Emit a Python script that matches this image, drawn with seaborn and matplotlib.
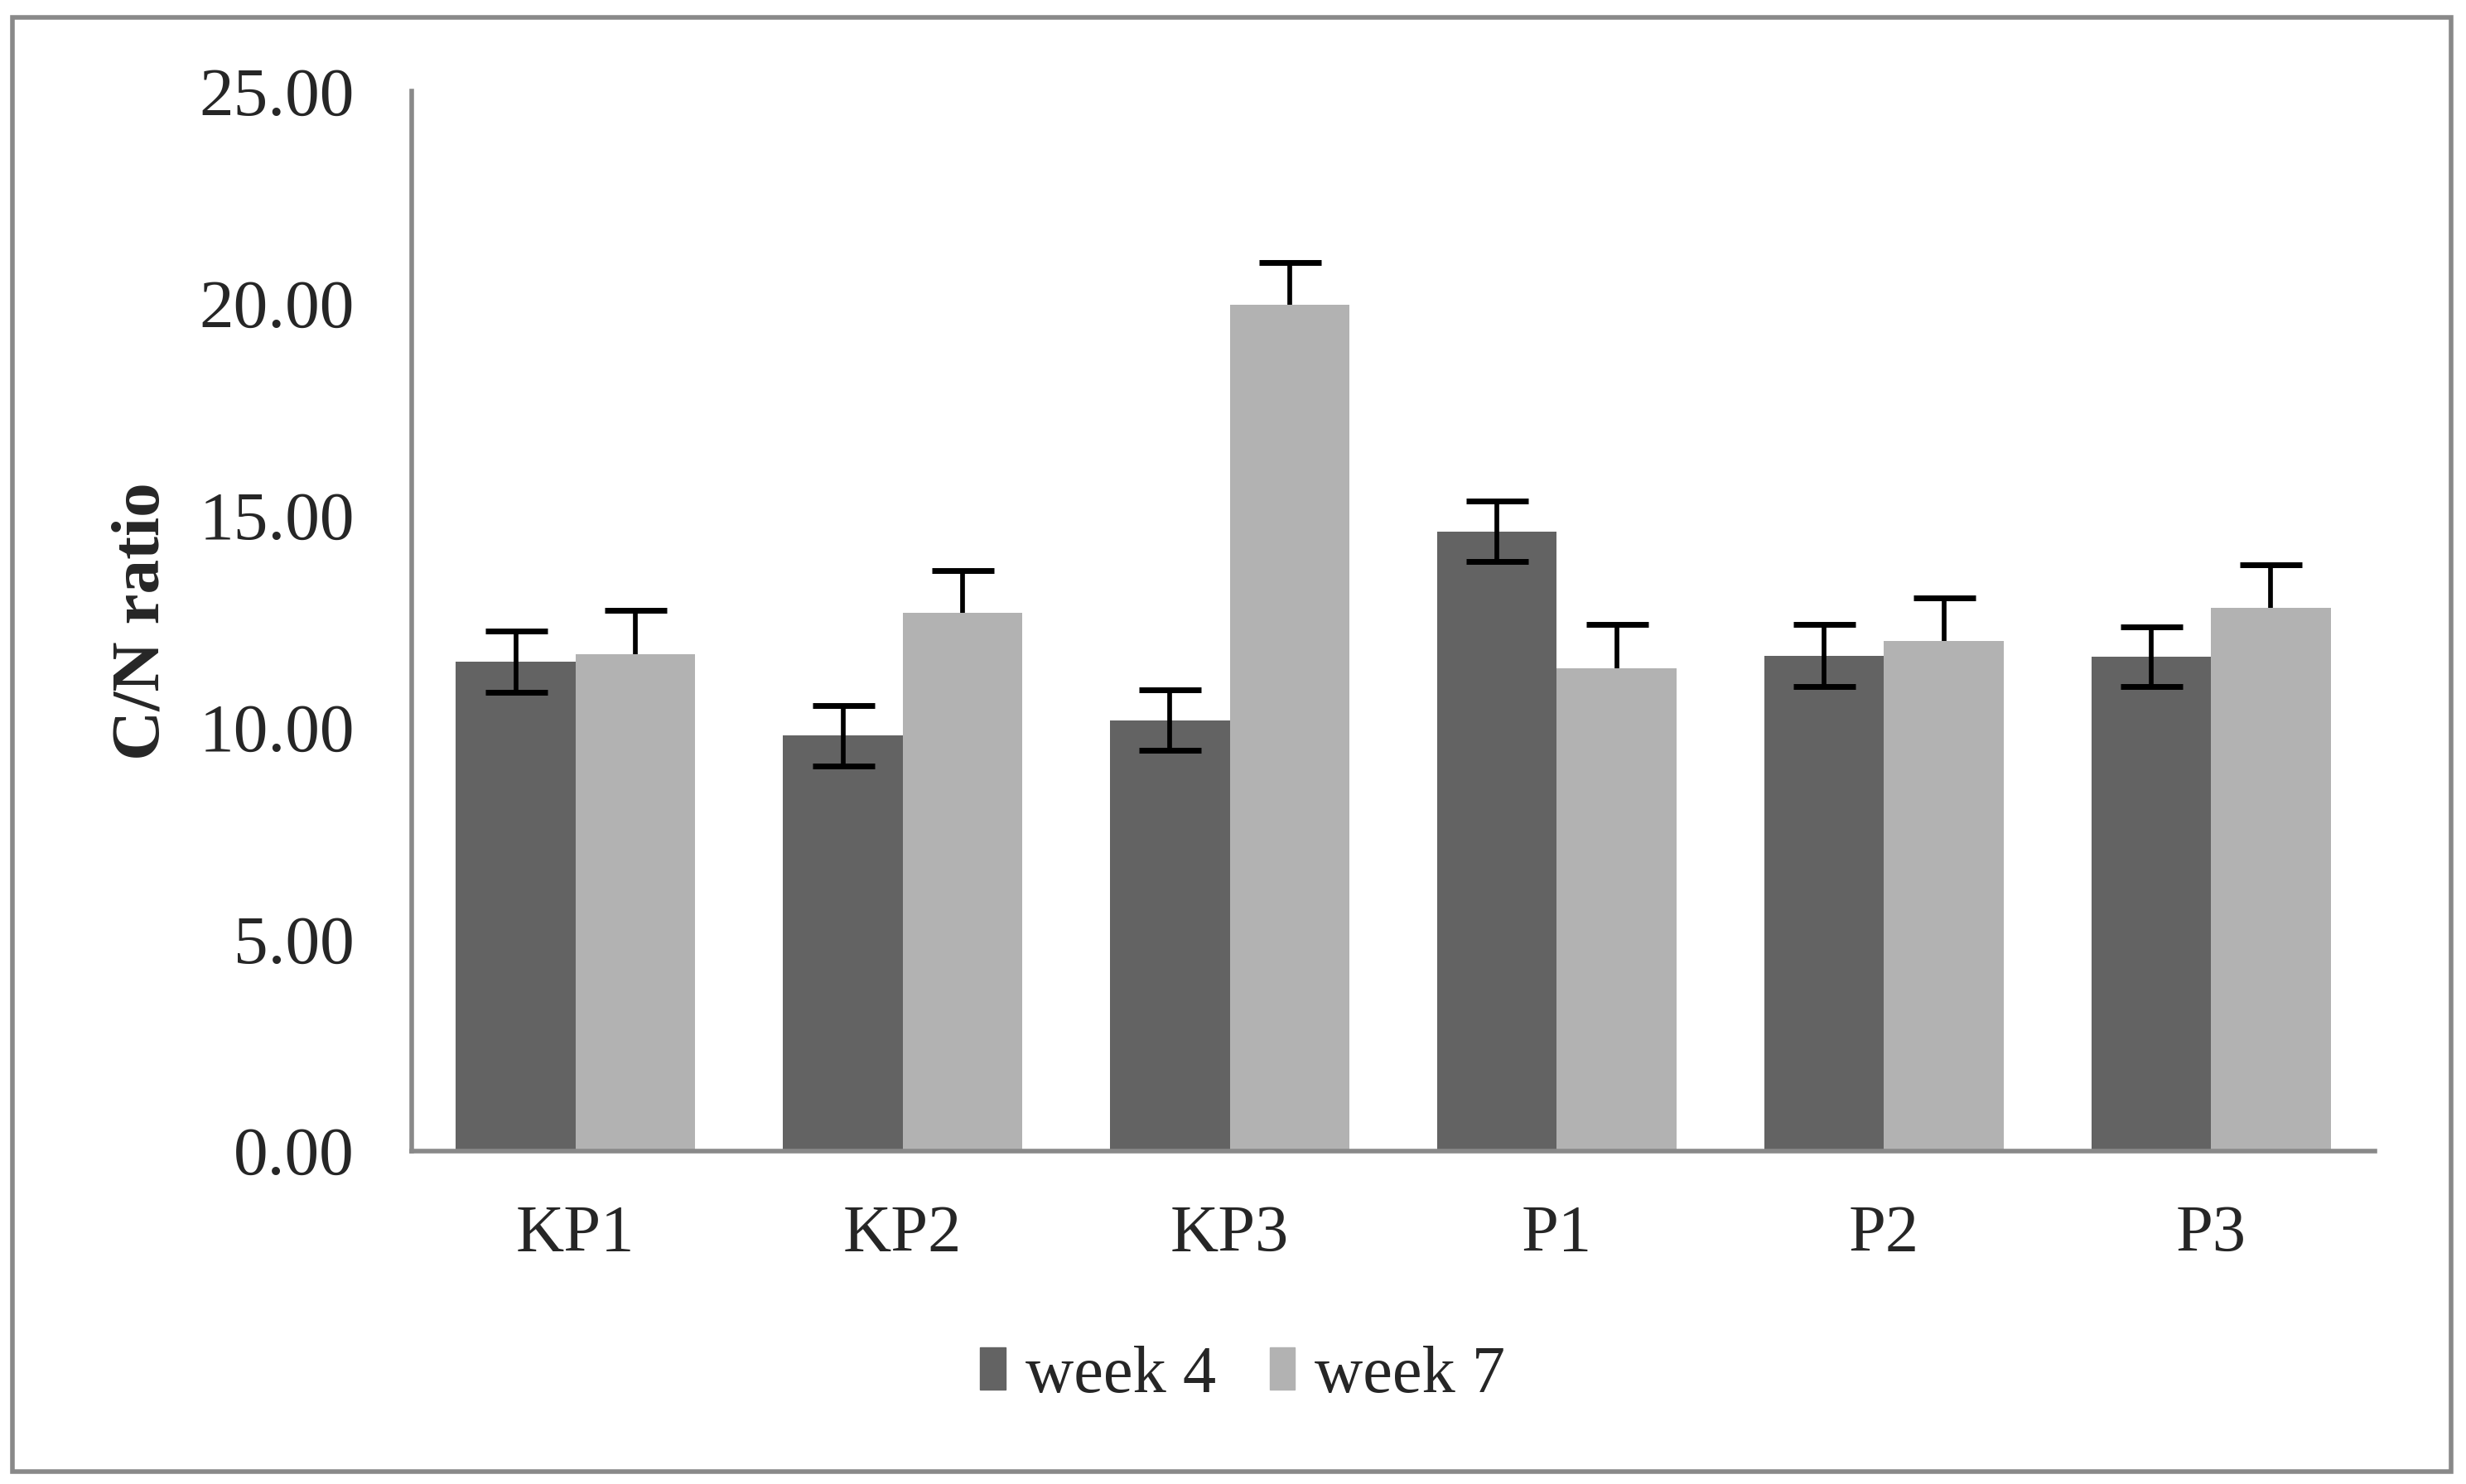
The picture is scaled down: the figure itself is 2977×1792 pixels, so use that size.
import pandas as pd
import matplotlib
matplotlib.use("Agg")
import matplotlib.pyplot as plt
import seaborn as sns
from matplotlib.patches import Rectangle

# values
samples = ["KP1", "KP2", "KP3", "P1", "P2", "P3"]
week4 = [11.54, 9.79, 10.16, 14.61, 11.68, 11.65]
week7 = [11.72, 12.69, 19.96, 11.39, 12.02, 12.80]
week4_err = [0.72, 0.71, 0.71, 0.71, 0.73, 0.70]
week7_err = [1.03, 1.00, 1.00, 1.03, 1.03, 1.03]
weeks = ["week 4", "week 7"]
yticks = [0, 5, 10, 15, 20, 25]

df = pd.DataFrame({
    "sample": samples * 2,
    "ratio": week4 + week7,
    "week": [weeks[0]] * len(samples) + [weeks[1]] * len(samples),
})

sns.set_style("white")
plt.rcParams['font.family'] = ['Liberation Serif', 'DejaVu Serif']

fig = plt.figure(figsize=(29.77, 17.92), dpi=100)
ax = fig.add_axes([0.167, 0.2246, 0.796, 0.714])

sns.barplot(data=df, x="sample", y="ratio", hue="week", hue_order=weeks,
            palette=["#636363", "#b2b2b2"], width=0.73, saturation=1,
            errorbar=None, ax=ax, legend=False, linewidth=0)

# error bars: week 4 both ways, week 7 plus only
errs = [(week4_err, week4_err), ([0] * len(week7_err), week7_err)]
for i, (cont, vals, (lo, hi)) in enumerate(zip(ax.containers, [week4, week7], errs)):
    xs = [b.get_x() + b.get_width() / 2 for b in cont]
    eb = ax.errorbar(xs, vals, yerr=[lo, hi], fmt="none", ecolor="black",
                     elinewidth=4.1, capsize=27, capthick=5, zorder=5)
    if i == 1:
        eb[1][0].remove()  # no lower cap for week 7

ax.set_xlim(-0.5, 5.5)
ax.set_ylim(0, 25)
ax.set_yticks(yticks)
ax.set_yticklabels([f"{v:.2f}" for v in yticks], fontsize=60)
ax.tick_params(axis="y", length=0, pad=50)
ax.tick_params(axis="x", length=0, pad=47, labelsize=58)
ax.set_xlabel("")
ax.set_ylabel("C/N ratio", fontsize=60, fontweight="bold", labelpad=22)

for s in ["top", "right"]:
    ax.spines[s].set_visible(False)
for s in ["left", "bottom"]:
    ax.spines[s].set_color("#898989")
    ax.spines[s].set_linewidth(4)

handles = [Rectangle((0, 0), 1, 1, color=c) for c in ["#636363", "#b2b2b2"]]
fig.legend(handles, weeks, loc="center", bbox_to_anchor=(0.504, 0.073),
           ncol=2, frameon=False, fontsize=58, handlelength=0.38,
           handleheight=0.6, handletextpad=0.3, columnspacing=0.8)

# outer chart frame
fig.patches.append(Rectangle((0.005, 0.0085), 0.989, 0.98, transform=fig.transFigure,
                             fill=False, edgecolor="#898989", linewidth=4))

fig.savefig("out.png", dpi=100)
